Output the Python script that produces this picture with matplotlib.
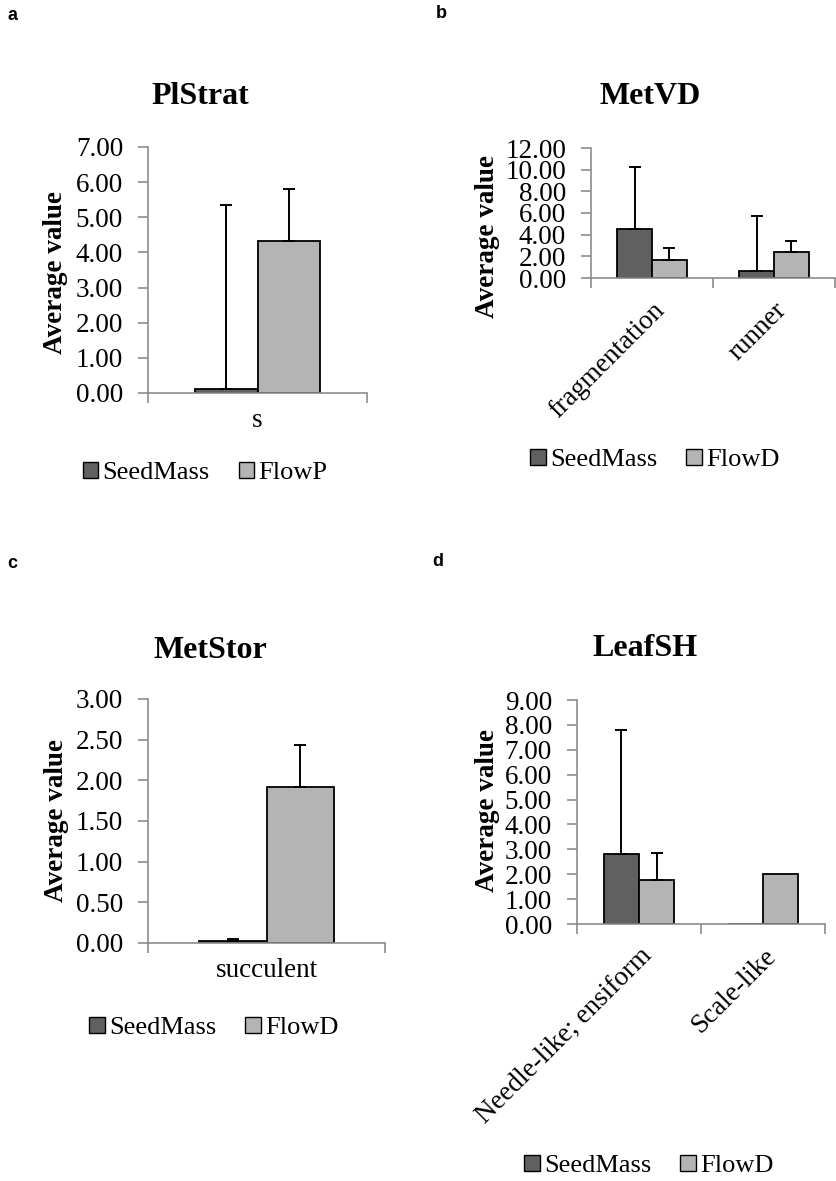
import matplotlib
matplotlib.use("Agg")
import matplotlib.pyplot as plt
import numpy as np
from matplotlib.patches import Patch

# data
plstrat_cats = ["s"]
plstrat_seed = [0.10]
plstrat_seed_err = [5.24]
plstrat_flow = [4.32]
plstrat_flow_err = [1.49]

metvd_cats = ["fragmentation", "runner"]
metvd_seed = [4.53, 0.67]
metvd_seed_err = [5.69, 5.09]
metvd_flow = [1.62, 2.36]
metvd_flow_err = [1.14, 1.07]

metstor_cats = ["succulent"]
metstor_seed = [0.025]
metstor_seed_err = [0.02]
metstor_flow = [1.915]
metstor_flow_err = [0.515]

leafsh_cats = ["Needle-like; ensiform", "Scale-like"]
leafsh_seed = [2.80, 0.02]
leafsh_seed_err = [4.98, 0.0]
leafsh_flow = [1.76, 2.00]
leafsh_flow_err = [1.09, 0.0]

W, H = 836, 1181
SEED_COLOR = "#606060"
FLOW_COLOR = "#b4b4b4"
AXIS_GRAY = "#8c8c8c"
SERIF = "Liberation Serif"
FS = 19.5

fig = plt.figure(figsize=(W / 100, H / 100), dpi=100)


def px_axes(left, right, top, bottom):
    return fig.add_axes([left / W, 1 - bottom / H, (right - left) / W, (bottom - top) / H])


def fig_text(x, y, s, **kw):
    fig.text(x / W, 1 - y / H, s, **kw)


def draw_panel(ax, cats, seed, seed_err, flow, flow_err, ymax, ystep, rotate):
    x = np.arange(len(cats))
    bw = 0.285
    ax.bar(x - bw / 2, seed, bw, color=SEED_COLOR, edgecolor="black", linewidth=1.3, zorder=2)
    ax.bar(x + bw / 2, flow, bw, color=FLOW_COLOR, edgecolor="black", linewidth=1.3, zorder=2)
    for xs, v, e in [(x - bw / 2, seed, seed_err), (x + bw / 2, flow, flow_err)]:
        keep = np.array(e) > 0
        if keep.any():
            ax.errorbar(np.array(xs)[keep], np.array(v)[keep],
                         yerr=[np.zeros(keep.sum()), np.array(e)[keep]],
                         fmt="none", ecolor="black", elinewidth=1.4, capsize=4.5,
                         capthick=1.4, zorder=3)
    ax.set_xlim(-0.5, len(cats) - 0.5)
    ax.set_ylim(0, ymax)
    yt = np.arange(0, ymax + ystep / 2, ystep)
    ax.set_yticks(yt)
    ax.set_yticklabels([f"{v:.2f}" for v in yt], fontfamily=SERIF, fontsize=FS)
    ax.set_xticks(x)
    if rotate:
        ax.set_xticklabels(cats, fontfamily=SERIF, fontsize=FS, rotation=45,
                           ha="right", va="top", rotation_mode="anchor")
    else:
        ax.set_xticklabels(cats, fontfamily=SERIF, fontsize=FS)
    ax.set_xticks(np.arange(-0.5, len(cats)), minor=True)
    ax.tick_params(axis="x", which="major", length=0, pad=14 if rotate else 11)
    ax.tick_params(axis="x", which="minor", length=7, color=AXIS_GRAY, width=1.2)
    ax.tick_params(axis="y", length=7, color=AXIS_GRAY, width=1.2, pad=11)
    for s in ["top", "right"]:
        ax.spines[s].set_visible(False)
    for s in ["left", "bottom"]:
        ax.spines[s].set_color(AXIS_GRAY)
        ax.spines[s].set_linewidth(1.2)


def legend(xc, y, second):
    handles = [Patch(facecolor=SEED_COLOR, edgecolor="black", label="SeedMass"),
               Patch(facecolor=FLOW_COLOR, edgecolor="black", label=second)]
    fig.legend(handles=handles, loc="center", bbox_to_anchor=(xc / W, 1 - y / H),
               ncol=2, frameon=False, handlelength=0.6, handleheight=0.6,
               handletextpad=0.15, columnspacing=1.1,
               prop={"family": SERIF, "size": 19})


def title(x, y, s):
    fig_text(x, y, s, fontfamily=SERIF, fontsize=23, fontweight="bold", ha="center", va="center")


def ylabel(x, y):
    fig_text(x, y, "Average value", fontfamily=SERIF, fontsize=19.5, fontweight="bold",
             rotation=90, ha="center", va="center")


# a: PlStrat
ax = px_axes(148, 367, 147, 393)
draw_panel(ax, plstrat_cats, plstrat_seed, plstrat_seed_err, plstrat_flow, plstrat_flow_err, 7, 1, False)
title(200, 97, "PlStrat")
ylabel(55, 272)
legend(205, 473, "FlowP")

# b: MetVD
ax = px_axes(591, 835, 148, 278)
draw_panel(ax, metvd_cats, metvd_seed, metvd_seed_err, metvd_flow, metvd_flow_err, 12, 2, True)
title(650, 97, "MetVD")
ylabel(487, 237)
legend(655, 460, "FlowD")

# c: MetStor
ax = px_axes(148, 385, 699, 943)
draw_panel(ax, metstor_cats, metstor_seed, metstor_seed_err, metstor_flow, metstor_flow_err, 3, 0.5, False)
title(210, 650, "MetStor")
ylabel(57, 821)
legend(214, 1028, "FlowD")

# d: LeafSH
ax = px_axes(577, 825, 700, 924)
draw_panel(ax, leafsh_cats, leafsh_seed, leafsh_seed_err, leafsh_flow, leafsh_flow_err, 9, 1, True)
title(645, 648, "LeafSH")
ylabel(487, 811)
legend(649, 1166, "FlowD")

# panel letters
for lx, ly, s in [(7, 15, "a"), (436, 13, "b"), (7, 564, "c"), (432, 562, "d")]:
    fig_text(lx, ly, s, fontfamily="Liberation Sans", fontsize=13, fontweight="bold",
             ha="left", va="center")

fig.savefig("out.png", dpi=100)
